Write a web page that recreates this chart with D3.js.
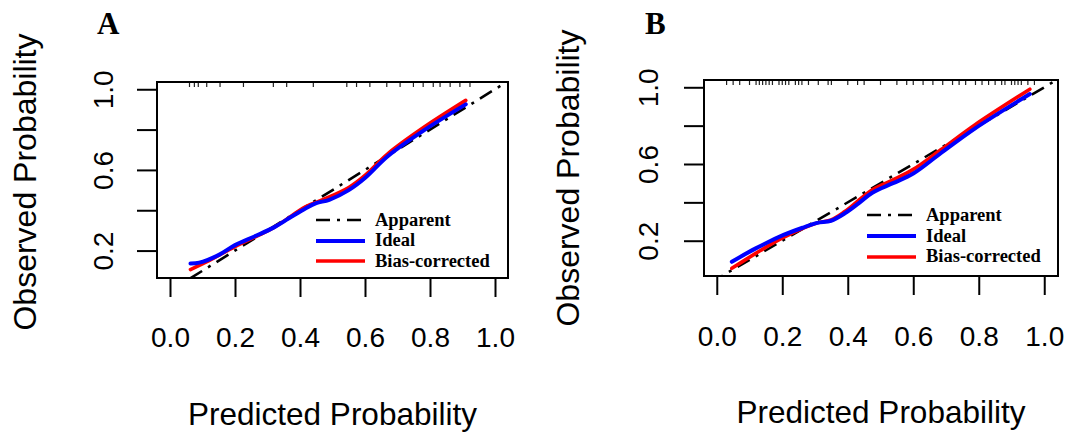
<!DOCTYPE html>
<html lang="en">
<head>
<meta charset="UTF-8">
<title>Calibration curves A / B</title>
<script src="https://d3js.org/d3.v7.min.js"></script>
<style>
    body { margin: 0; background: #fff; }
    svg { display: block; }
</style>
</head>
<body>
<div id="chart"></div>
<script>
// axis ticks
var xTicks = [0, 0.2, 0.4, 0.6, 0.8, 1.0];
var yTicks = [0.2, 0.4, 0.6, 0.8, 1.0];
var yTickLabels = [0.2, 0.6, 1.0];   // the other labels are dropped in the original
var legendLabels = ["Apparent", "Ideal", "Bias-corrected"];

// panel A, [predicted, observed]
var idealA = [[0.063, 0.136], [0.09, 0.14], [0.152, 0.18], [0.20, 0.227], [0.26, 0.27],
    [0.32, 0.315], [0.366, 0.36], [0.418, 0.41], [0.45, 0.435], [0.49, 0.452],
    [0.55, 0.50], [0.60, 0.56], [0.67, 0.668], [0.78, 0.795], [0.91, 0.925]];
var biasA = [[0.063, 0.106], [0.12, 0.15], [0.20, 0.22], [0.32, 0.315], [0.418, 0.418],
    [0.47, 0.452], [0.55, 0.513], [0.60, 0.573], [0.67, 0.68], [0.78, 0.81], [0.91, 0.945]];
var rugA = [0.06, 0.075, 0.087, 0.113, 0.154, 0.226, 0.318, 0.359, 0.441, 0.544, 0.574,
    0.615, 0.667, 0.708, 0.749, 0.779, 0.81, 0.831, 0.862, 0.892, 0.923];

// panel B
var idealB = [[0.046, 0.09], [0.119, 0.16], [0.204, 0.23], [0.266, 0.27], [0.307, 0.293],
    [0.349, 0.304], [0.391, 0.343], [0.433, 0.395], [0.475, 0.45], [0.538, 0.50],
    [0.60, 0.55], [0.684, 0.656], [0.789, 0.786], [0.956, 0.965]];
var biasB = [[0.046, 0.056], [0.119, 0.134], [0.204, 0.217], [0.307, 0.293], [0.349, 0.308],
    [0.391, 0.352], [0.475, 0.466], [0.538, 0.517], [0.60, 0.572], [0.684, 0.674],
    [0.789, 0.805], [0.956, 0.99]];
var rugB = [0.03, 0.05, 0.07, 0.1, 0.12, 0.13, 0.14, 0.15, 0.16, 0.17, 0.19, 0.2, 0.21,
    0.22, 0.24, 0.25, 0.26, 0.28, 0.31, 0.34, 0.35, 0.4, 0.43, 0.45, 0.5, 0.55, 0.58,
    0.6, 0.63, 0.66, 0.69, 0.72, 0.74, 0.76, 0.79, 0.81, 0.83, 0.85, 0.87, 0.88, 0.9,
    0.91, 0.92, 0.93, 0.95, 0.97];

var W = 1067, H = 432;
var sans = "'Liberation Sans', Arial, sans-serif";
var serif = "'Liberation Serif', 'Times New Roman', serif";

var svg = d3.select("#chart").append("svg")
    .attr("width", W)
    .attr("height", H);

svg.append("rect").attr("width", W).attr("height", H).attr("fill", "#fff");

function drawPanel(p) {
    var x = d3.scaleLinear().domain(p.xDomain).range([p.left, p.right]);
    var y = d3.scaleLinear().domain(p.yDomain).range([p.bottom, p.top]);
    var g = svg.append("g");

    g.append("clipPath").attr("id", "clip" + p.letter)
        .append("rect")
        .attr("x", p.left).attr("y", p.top)
        .attr("width", p.right - p.left).attr("height", p.bottom - p.top);

    // x axis
    var xa = g.append("g")
        .attr("transform", "translate(0," + p.bottom + ")")
        .call(d3.axisBottom(x).tickValues(xTicks).tickSize(19).tickPadding(p.xPad)
            .tickFormat(d3.format(".1f")));
    xa.select(".domain").remove();
    xa.selectAll("line").attr("stroke", "#000").attr("stroke-width", 2);
    xa.selectAll("text").attr("font-family", sans).attr("font-size", 28).attr("fill", "#000");

    // y axis, labels turned like R's las = 0
    var ya = g.append("g")
        .attr("transform", "translate(" + p.left + ",0)")
        .call(d3.axisLeft(y).tickValues(yTicks).tickSize(20)
            .tickFormat(function(d) { return yTickLabels.indexOf(d) >= 0 ? d.toFixed(1) : ""; }));
    ya.select(".domain").remove();
    ya.selectAll("line").attr("stroke", "#000").attr("stroke-width", 2);
    ya.selectAll("text")
        .attr("x", null).attr("dy", null)
        .attr("transform", "translate(" + p.yLab + ",0) rotate(-90)")
        .attr("text-anchor", "middle")
        .attr("font-family", sans).attr("font-size", 28).attr("fill", "#000");

    // rug of predictions along the top
    g.selectAll(".rug").data(p.rug).enter().append("line")
        .attr("x1", function(d) { return x(d); })
        .attr("x2", function(d) { return x(d); })
        .attr("y1", p.top).attr("y2", p.top + 5)
        .attr("stroke", "#222").attr("stroke-width", 1.2);

    // diagonal
    g.append("line")
        .attr("clip-path", "url(#clip" + p.letter + ")")
        .attr("x1", x(-0.1)).attr("y1", y(-0.1))
        .attr("x2", x(1.1)).attr("y2", y(1.1))
        .attr("stroke", "#000").attr("stroke-width", 2.6)
        .attr("stroke-dasharray", "14,7,3,7");

    var line = d3.line()
        .x(function(d) { return x(d[0]); })
        .y(function(d) { return y(d[1]); })
        .curve(d3.curveCatmullRom.alpha(0.5));

    g.append("path").datum(p.bias).attr("d", line)
        .attr("fill", "none").attr("stroke", "#ff0000").attr("stroke-width", 3.6)
        .attr("stroke-linecap", "round");
    g.append("path").datum(p.ideal).attr("d", line)
        .attr("fill", "none").attr("stroke", "#0000ff").attr("stroke-width", 4)
        .attr("stroke-linecap", "round");

    // box
    g.append("rect")
        .attr("x", p.left).attr("y", p.top)
        .attr("width", p.right - p.left).attr("height", p.bottom - p.top)
        .attr("fill", "none").attr("stroke", "#000").attr("stroke-width", 2);

    // legend
    var lg = g.append("g");
    var styles = [
        { stroke: "#000", width: 2.6, dash: "14,7,3,7" },
        { stroke: "#0000ff", width: 4, dash: null },
        { stroke: "#ff0000", width: 3.6, dash: null }
    ];
    legendLabels.forEach(function(lab, i) {
        lg.append("line")
            .attr("x1", p.legX).attr("x2", p.legX + 49)
            .attr("y1", p.legLineY[i]).attr("y2", p.legLineY[i])
            .attr("stroke", styles[i].stroke).attr("stroke-width", styles[i].width)
            .attr("stroke-dasharray", styles[i].dash);
        lg.append("text")
            .attr("x", p.legX + 59).attr("y", p.legTextY[i])
            .attr("font-family", serif).attr("font-weight", "bold")
            .attr("font-size", 18.5).attr("fill", "#000")
            .text(lab);
    });

    // titles
    g.append("text")
        .attr("transform", "translate(" + p.yTitleX + "," + p.yTitleY + ") rotate(-90)")
        .attr("text-anchor", "middle")
        .attr("font-family", sans).attr("font-size", 32).attr("fill", "#000")
        .text("Observed Probability");
    g.append("text")
        .attr("x", (p.left + p.right) / 2).attr("y", p.xTitleY)
        .attr("text-anchor", "middle")
        .attr("font-family", sans).attr("font-size", 31.5).attr("fill", "#000")
        .text("Predicted Probability");
    g.append("text")
        .attr("x", p.letterX).attr("y", 34)
        .attr("font-family", serif).attr("font-weight", "bold")
        .attr("font-size", 31).attr("fill", "#000")
        .text(p.letter);
}

drawPanel({
    letter: "A", ideal: idealA, bias: biasA, rug: rugA,
    xDomain: [-0.04, 1.04], yDomain: [0.064, 1.036],
    left: 157, right: 508, top: 82, bottom: 278,
    xPad: 30, yLab: -44,
    legX: 316, legLineY: [220, 241, 261], legTextY: [225.5, 246, 266.5],
    yTitleX: 36, yTitleY: 182, xTitleY: 425, letterX: 97
});

drawPanel({
    letter: "B", ideal: idealB, bias: biasB, rug: rugB,
    xDomain: [-0.039, 1.042], yDomain: [0.016, 1.038],
    left: 704, right: 1058, top: 80, bottom: 276,
    xPad: 31, yLab: -46,
    legX: 867, legLineY: [215, 236, 257], legTextY: [221, 241.5, 262],
    yTitleX: 579, yTitleY: 178, xTitleY: 423, letterX: 645
});
</script>
</body>
</html>
